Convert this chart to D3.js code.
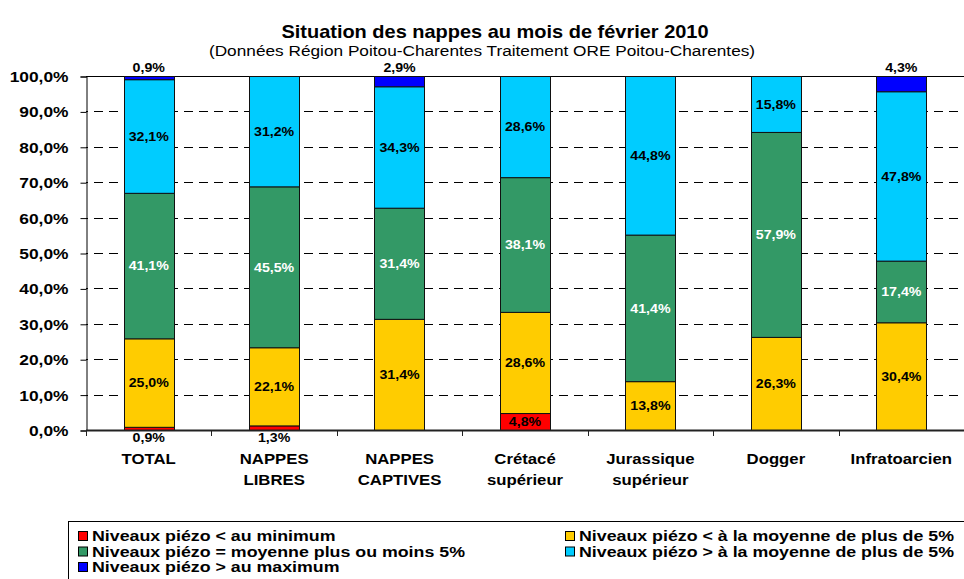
<!DOCTYPE html>
<html>
<head>
<meta charset="utf-8">
<script src="https://cdnjs.cloudflare.com/ajax/libs/d3/7.8.5/d3.min.js"></script>
<style>
  body { margin: 0; background: #fff; }
  svg { display: block; font-family: Arial, "Liberation Sans", sans-serif; }
</style>
</head>
<body>
<script>
// categories (x axis), split on two lines like the original
var categories = ["TOTAL", "NAPPES LIBRES", "NAPPES CAPTIVES", "Crétacé supérieur", "Jurassique supérieur", "Dogger", "Infratoarcien"];
var catLines = [["TOTAL"], ["NAPPES", "LIBRES"], ["NAPPES", "CAPTIVES"], ["Crétacé", "supérieur"], ["Jurassique", "supérieur"], ["Dogger"], ["Infratoarcien"]];

// series values in %, from bottom to top of each bar
var sousMin   = [0.9, 1.3, 0, 4.8, 0, 0, 0];
var sousMoy   = [25.0, 22.1, 31.4, 28.6, 13.8, 26.3, 30.4];
var moyenne   = [41.1, 45.5, 31.4, 38.1, 41.4, 57.9, 17.4];
var surMoy    = [32.1, 31.2, 34.3, 28.6, 44.8, 15.8, 47.8];
var surMax    = [0.9, 0, 2.9, 0, 0, 0, 4.3];

var seriesNames = [
  "Niveaux piézo < au minimum",
  "Niveaux piézo < à la moyenne de plus de 5%",
  "Niveaux piézo = moyenne plus ou moins 5%",
  "Niveaux piézo > à la moyenne de plus de 5%",
  "Niveaux piézo > au maximum"
];
var seriesColors = ["#ff0000", "#ffcc00", "#339966", "#00ccff", "#0000ff"];
var yTicks = [0, 10, 20, 30, 40, 50, 60, 70, 80, 90, 100];

var W = 964, H = 579;
var pLeft = 86, pRight = 964, pTop = 76, pBottom = 430;

var svg = d3.select("body").append("svg")
  .attr("width", W).attr("height", H);

// text in the original is a bit wider than Arial, stretch it horizontally
function stretch(sel, sx) {
  sel.each(function() {
    var t = d3.select(this);
    var tx = +t.attr("x") || 0, ty = +t.attr("y") || 0;
    t.attr("x", null).attr("y", null)
      .attr("transform", "translate(" + tx + "," + ty + ") scale(" + sx + ",1)");
  });
}

var seriesData = [sousMin, sousMoy, moyenne, surMoy, surMax];
var keys = d3.range(seriesData.length);
var rows = categories.map(function(c, i) {
  var r = { cat: c, idx: i };
  keys.forEach(function(k) { r[k] = seriesData[k][i]; });
  return r;
});

var stacked = d3.stack().keys(keys).offset(d3.stackOffsetExpand)(rows);

var x = d3.scaleBand().domain(categories).range([pLeft, pRight])
  .paddingInner(0.6).paddingOuter(0.3);
var y = d3.scaleLinear().domain([0, 100]).range([pBottom, pTop]);
var yf = d3.scaleLinear().domain([0, 1]).range([pBottom, pTop]);
var step = x.step();

// title
svg.append("text")
  .attr("x", 495).attr("y", 38)
  .attr("text-anchor", "middle")
  .style("font-weight", "bold").style("font-size", "18px")
  .text("Situation des nappes au mois de février 2010")
  .call(stretch, 1.11);
svg.append("text")
  .attr("x", 482).attr("y", 56)
  .attr("text-anchor", "middle")
  .style("font-size", "14.5px")
  .text("(Données Région Poitou-Charentes Traitement ORE Poitou-Charentes)")
  .call(stretch, 1.19);

// grid lines
svg.append("g").selectAll("line")
  .data(yTicks.filter(function(t) { return t > 0; }))
  .enter().append("line")
  .attr("x1", pLeft).attr("x2", pRight)
  .attr("y1", function(d) { return Math.round(y(d)) + 0.5; })
  .attr("y2", function(d) { return Math.round(y(d)) + 0.5; })
  .attr("stroke", "#000")
  .attr("stroke-width", 1)
  .attr("stroke-dasharray", function(d) { return d == 100 ? null : "9,6"; })
  .attr("stroke-dashoffset", -8);

// y axis
var yAxis = d3.axisLeft(y).tickValues(yTicks).tickSize(6)
  .tickFormat(function(d) { return d.toFixed(1).replace(".", ",") + "%"; });
var ya = svg.append("g").attr("transform", "translate(" + (pLeft + 0.5) + ",0.5)").call(yAxis);
ya.select(".domain").attr("stroke", "#000");
ya.selectAll(".tick line").attr("stroke", "#000");
ya.selectAll(".tick text")
  .attr("x", -18).attr("y", 0)
  .style("font-weight", "bold").style("font-size", "15.5px").attr("fill", "#000")
  .call(stretch, 1.12);

// bars
var layer = svg.append("g").selectAll("g")
  .data(stacked).enter().append("g")
  .attr("fill", function(d) { return seriesColors[d.key]; });

layer.selectAll("rect")
  .data(function(d) { return d.filter(function(p) { return p.data[d.key] > 0; }); })
  .enter().append("rect")
  .attr("x", function(d) { return Math.round(x(d.data.cat)) + 0.5; })
  .attr("width", Math.round(x.bandwidth()))
  .attr("y", function(d) { return yf(d[1]) + 0.5; })
  .attr("height", function(d) { return yf(d[0]) - yf(d[1]); })
  .attr("stroke", "#111").attr("stroke-width", 1);

// x axis
svg.append("line")
  .attr("x1", pLeft).attr("x2", pRight)
  .attr("y1", pBottom + 0.5).attr("y2", pBottom + 0.5)
  .attr("stroke", "#222").attr("stroke-width", 2);
svg.append("g").selectAll("line")
  .data(d3.range(categories.length + 1))
  .enter().append("line")
  .attr("x1", function(i) { return Math.round(pLeft + i * step) + 0.5; })
  .attr("x2", function(i) { return Math.round(pLeft + i * step) + 0.5; })
  .attr("y1", pBottom).attr("y2", pBottom + 6)
  .attr("stroke", "#222").attr("stroke-width", 1);

// category labels
var cl = svg.append("g").selectAll("text")
  .data(catLines).enter().append("text")
  .attr("text-anchor", "middle")
  .style("font-weight", "bold").style("font-size", "15.5px")
  .attr("transform", function(d, i) {
    return "translate(" + (x(categories[i]) + x.bandwidth() / 2) + ",464) scale(1.08,1)";
  });
cl.selectAll("tspan").data(function(d) { return d; }).enter().append("tspan")
  .attr("x", 0).attr("dy", function(d, j) { return j ? 21 : 0; })
  .text(function(d) { return d; });

// data labels: thin segments at the ends get their label outside the bar
var labels = [];
stacked.forEach(function(s) {
  s.forEach(function(p) {
    var v = p.data[s.key];
    if (v <= 0) return;
    var cx = x(p.data.cat) + x.bandwidth() / 2;
    var cy = (yf(p[0]) + yf(p[1])) / 2;
    if (s.key == 0 && v < 3) cy = 437;
    if (s.key == 4) cy = 67;
    labels.push({ x: cx, y: cy, v: v, white: s.key == 2 });
  });
});
svg.append("g").selectAll("text")
  .data(labels).enter().append("text")
  .attr("x", function(d) { return d.x; })
  .attr("y", function(d) { return d.y; })
  .attr("dy", "0.36em")
  .attr("text-anchor", "middle")
  .style("font-weight", "bold").style("font-size", "13.5px")
  .attr("fill", function(d) { return d.white ? "#fff" : "#000"; })
  .text(function(d) { return d.v.toFixed(1).replace(".", ",") + "%"; })
  .call(stretch, 1.05);

// legend
var lg = svg.append("g");
lg.append("rect")
  .attr("x", 68.5).attr("y", 521.5).attr("width", 920).attr("height", 80)
  .attr("fill", "#fff").attr("stroke", "#000");
var legendPos = [[78, 536], [565, 536], [78, 551.5], [565, 551.5], [78, 567]];
var li = lg.selectAll("g.item")
  .data(keys).enter().append("g")
  .attr("class", "item")
  .attr("transform", function(d, i) { return "translate(" + legendPos[i][0] + "," + legendPos[i][1] + ")"; });
li.append("rect")
  .attr("x", 0.5).attr("y", -4.5).attr("width", 9).attr("height", 9)
  .attr("fill", function(d) { return seriesColors[d]; })
  .attr("stroke", "#000");
li.append("text")
  .attr("x", 14).attr("y", 0).attr("dy", "0.36em")
  .style("font-weight", "bold").style("font-size", "14px")
  .text(function(d) { return seriesNames[d]; })
  .call(stretch, 1.27);
</script>
</body>
</html>
